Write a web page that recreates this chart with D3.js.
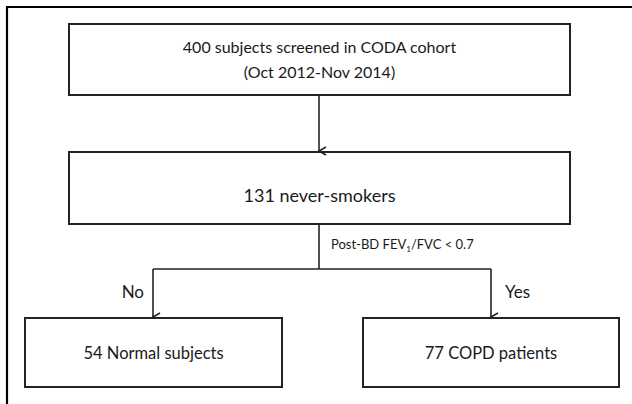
<!DOCTYPE html>
<html>
<head>
<meta charset="utf-8">
<script src="https://cdn.jsdelivr.net/npm/d3@7"></script>
<style>
  body { margin: 0; background: #fff; }
  text { font-family: Lato, "Open Sans", sans-serif; fill: #1a1a1a; }
</style>
</head>
<body>
<div id="chart"></div>
<script>
// flowchart content
const steps = ['screened', 'neverSmokers'];
const stepLines = [
    ['400 subjects screened in CODA cohort', '(Oct 2012-Nov 2014)'],
    ['131 never-smokers']
];
const outcomes = ['No', 'Yes'];
const outcomeLabels = ['54 Normal subjects', '77 COPD patients'];
const splitLabel = ['Post-BD FEV', '1', '/FVC < 0.7'];

const width = 632, height = 404;
const stroke = '#232323';

const svg = d3.select('#chart').append('svg')
    .attr('width', width)
    .attr('height', height);

svg.append('defs').append('marker')
    .attr('id', 'arrow')
    .attr('viewBox', '-6 -8 12 10')
    .attr('refX', 0).attr('refY', 0)
    .attr('markerWidth', 12).attr('markerHeight', 10)
    .attr('markerUnits', 'userSpaceOnUse')
    .attr('orient', 'auto-start-reverse')
    .append('path')
    .attr('d', 'M-4,-7L0,0L4,-7')
    .attr('fill', 'none')
    .attr('stroke', stroke)
    .attr('stroke-width', 1.6);

// outer frame (top and left edges only)
svg.append('line').attr('x1', 7).attr('y1', 6).attr('x2', 7).attr('y2', height)
    .attr('stroke', '#000').attr('stroke-width', 2.2);
svg.append('line').attr('x1', 6).attr('y1', 7).attr('x2', width).attr('y2', 7)
    .attr('stroke', '#000').attr('stroke-width', 2.2);

// layout
const col = d3.scaleOrdinal().domain(outcomes).range([[25, 282], [363, 619]]);
const mainX = [69, 570];
const trunkX = 319;
const rows = [[24, 95], [152, 224]];
const rowFont = [16, 18];
const branchY = 269;
const bottomRow = [318, 387];

const g = svg.append('g');

// main boxes
const main = g.selectAll('.main').data(steps).enter().append('g').attr('class', 'main');
main.append('rect')
    .attr('x', mainX[0])
    .attr('y', (d, i) => rows[i][0])
    .attr('width', mainX[1] - mainX[0])
    .attr('height', (d, i) => rows[i][1] - rows[i][0])
    .attr('fill', '#fff')
    .attr('stroke', stroke)
    .attr('stroke-width', 2);
main.each(function(d, i) {
    const lines = stepLines[i];
    const cy = (rows[i][0] + rows[i][1]) / 2;
    const lh = 25;
    d3.select(this).selectAll('text').data(lines).enter().append('text')
        .attr('x', (mainX[0] + mainX[1]) / 2)
        .attr('y', (t, j) => cy + (j - (lines.length - 1) / 2) * lh + (i === 0 ? 6 : 14))
        .attr('text-anchor', 'middle')
        .attr('font-size', rowFont[i])
        .text(t => t);
});

// connector top -> second
g.append('line')
    .attr('x1', trunkX).attr('y1', rows[0][1])
    .attr('x2', trunkX).attr('y2', rows[1][0] - 1)
    .attr('stroke', stroke).attr('stroke-width', 1.6)
    .attr('marker-end', 'url(#arrow)');

// split
g.append('line')
    .attr('x1', trunkX).attr('y1', rows[1][1])
    .attr('x2', trunkX).attr('y2', branchY)
    .attr('stroke', stroke).attr('stroke-width', 1.6);

const branchX = d3.scaleOrdinal().domain(outcomes).range([153, 491]);
g.append('line')
    .attr('x1', branchX('No')).attr('y1', branchY)
    .attr('x2', branchX('Yes')).attr('y2', branchY)
    .attr('stroke', stroke).attr('stroke-width', 1.6);

const lbl = g.append('text')
    .attr('x', trunkX + 12)
    .attr('y', 249)
    .attr('font-size', 13);
lbl.append('tspan').text(splitLabel[0]);
lbl.append('tspan').attr('font-size', 8).attr('dy', 3).text(splitLabel[1]);
lbl.append('tspan').attr('dy', -3).text(splitLabel[2]);

const out = g.selectAll('.out').data(outcomes).enter().append('g').attr('class', 'out');
out.append('line')
    .attr('x1', d => branchX(d)).attr('y1', branchY)
    .attr('x2', d => branchX(d)).attr('y2', bottomRow[0] - 1)
    .attr('stroke', stroke).attr('stroke-width', 1.6)
    .attr('marker-end', 'url(#arrow)');
out.append('text')
    .attr('x', d => d === 'No' ? branchX(d) - 9 : branchX(d) + 14)
    .attr('y', branchY + 29)
    .attr('text-anchor', d => d === 'No' ? 'end' : 'start')
    .attr('font-size', 17)
    .text(d => d);
out.append('rect')
    .attr('x', d => col(d)[0])
    .attr('y', bottomRow[0])
    .attr('width', d => col(d)[1] - col(d)[0])
    .attr('height', bottomRow[1] - bottomRow[0])
    .attr('fill', '#fff')
    .attr('stroke', stroke)
    .attr('stroke-width', 2);
out.append('text')
    .attr('x', d => (col(d)[0] + col(d)[1]) / 2)
    .attr('y', (bottomRow[0] + bottomRow[1]) / 2 + 6)
    .attr('text-anchor', 'middle')
    .attr('font-size', 16.5)
    .text((d, i) => outcomeLabels[i]);
</script>
</body>
</html>
